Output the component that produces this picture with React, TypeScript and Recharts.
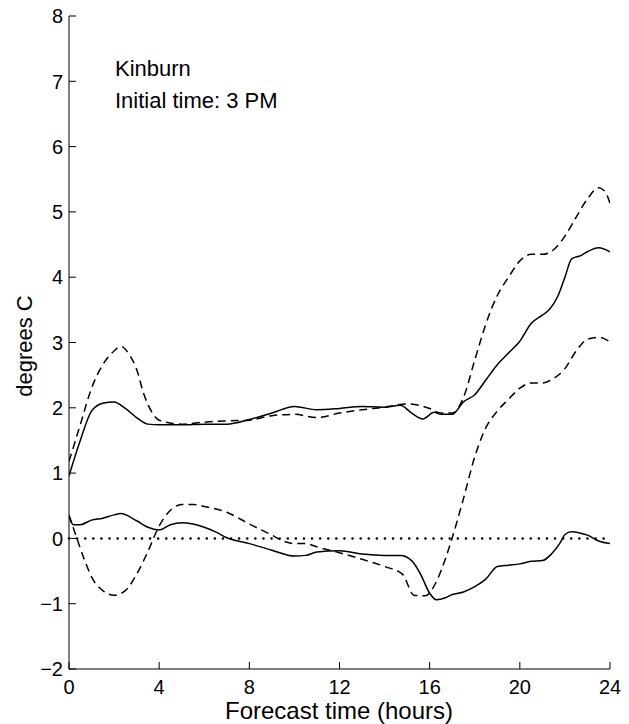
import { LineChart, Line, XAxis, YAxis, ReferenceLine } from "recharts";

// forecast hours and error values (degrees C)
const upperSolidX = [0, 0.5, 1, 1.5, 2, 2.5, 3, 3.5, 4, 5, 6, 7, 8, 9, 10, 11, 12, 13, 14, 14.7, 15.2, 15.7, 16.2, 16.5, 17, 17.5, 18, 18.5, 19, 19.5, 20, 20.5, 21, 21.3, 21.7, 22, 22.3, 22.7, 23, 23.5, 24];
const upperSolidY = [0.96, 1.5, 1.95, 2.07, 2.09, 1.99, 1.85, 1.75, 1.74, 1.74, 1.75, 1.75, 1.82, 1.92, 2.02, 1.97, 1.99, 2.02, 2.01, 2.04, 1.92, 1.83, 1.93, 1.9, 1.9, 2.09, 2.2, 2.43, 2.66, 2.84, 3.02, 3.29, 3.42, 3.5, 3.72, 4.0, 4.28, 4.33, 4.39, 4.45, 4.39];

const upperDashX = [0, 0.5, 1, 1.5, 2, 2.3, 2.7, 3, 3.3, 3.7, 4, 5, 6, 7, 8, 9, 10, 11, 12, 13, 14, 15, 16, 16.5, 17, 17.5, 18, 18.5, 19, 19.5, 20, 20.5, 21, 21.5, 22, 22.5, 23, 23.5, 23.8, 24];
const upperDashY = [1.18, 1.74, 2.3, 2.66, 2.87, 2.94, 2.8, 2.59, 2.23, 1.92, 1.81, 1.75, 1.78, 1.8, 1.81, 1.88, 1.9, 1.85, 1.92, 1.97, 2.01, 2.06, 1.99, 1.92, 1.92, 2.16, 2.73, 3.29, 3.72, 4.0, 4.25, 4.35, 4.35, 4.42, 4.63, 4.92, 5.2, 5.37, 5.3, 5.13];

const lowerSolidX = [0, 0.2, 0.5, 1, 1.5, 2, 2.3, 3, 3.5, 4, 4.5, 5, 5.5, 6, 6.5, 7, 8, 9, 10, 10.5, 11, 12, 13, 14, 14.7, 15.2, 15.6, 16, 16.3, 16.7, 17, 17.5, 18, 18.5, 19, 19.5, 20, 20.5, 21, 21.4, 21.8, 22, 22.3, 22.7, 23, 23.5, 24];
const lowerSolidY = [0.33, 0.21, 0.21, 0.28, 0.31, 0.36, 0.38, 0.27, 0.17, 0.13, 0.21, 0.24, 0.22, 0.17, 0.1, 0.01, -0.08, -0.18, -0.27, -0.26, -0.21, -0.19, -0.24, -0.26, -0.26, -0.34, -0.55, -0.84, -0.94, -0.91, -0.86, -0.82, -0.74, -0.62, -0.43, -0.41, -0.39, -0.35, -0.34, -0.24, -0.06, 0.06, 0.1, 0.08, 0.05, -0.04, -0.08];

const lowerDashX = [0, 0.3, 0.7, 1, 1.5, 2, 2.5, 3, 3.5, 4, 4.5, 5, 5.5, 6, 7, 8, 9, 9.5, 10, 10.5, 11, 12, 13, 14, 14.8, 15.3, 15.8, 16.3, 16.7, 17, 17.5, 18, 18.5, 19, 19.5, 20, 20.5, 21, 21.5, 22, 22.5, 23, 23.5, 24];
const lowerDashY = [0.36, 0.05, -0.34, -0.59, -0.8, -0.87, -0.8, -0.55, -0.2, 0.19, 0.43, 0.52, 0.52, 0.49, 0.4, 0.22, 0.05, -0.04, -0.08, -0.08, -0.13, -0.22, -0.32, -0.43, -0.55, -0.87, -0.88, -0.66, -0.31, 0.01, 0.61, 1.25, 1.7, 1.95, 2.13, 2.3, 2.38, 2.38, 2.45, 2.6, 2.87, 3.05, 3.08, 3.01];

const xTicks = [0, 4, 8, 12, 16, 20, 24];
const yTicks = [-2, -1, 0, 1, 2, 3, 4, 5, 6, 7, 8];

const toPoints = (xs: number[], ys: number[]) => xs.map((x, i) => ({ x, y: ys[i] }));

const FONT = "'Liberation Sans', Arial, Helvetica, sans-serif";
const TICK = 7;

const fmt = (v: number) => (v < 0 ? "\u2212" + Math.abs(v) : String(v));

const BottomTick = (props: any) => {
  const { x, y, payload } = props;
  return (
    <g>
      <line x1={x} y1={y} x2={x} y2={y - TICK} stroke="#000" />
      <text x={x} y={y + 25} textAnchor="middle" fontSize={20} fontFamily={FONT} fill="#000">
        {fmt(payload.value)}
      </text>
    </g>
  );
};

const TopTick = (props: any) => {
  const { x, y } = props;
  return <line x1={x} y1={y} x2={x} y2={y + TICK} stroke="#000" />;
};

const LeftTick = (props: any) => {
  const { x, y, payload } = props;
  return (
    <g>
      <line x1={x} y1={y} x2={x + TICK} y2={y} stroke="#000" />
      <text x={x - 6} y={y} dy="0.36em" textAnchor="end" fontSize={20} fontFamily={FONT} fill="#000">
        {fmt(payload.value)}
      </text>
    </g>
  );
};

const RightTick = (props: any) => {
  const { x, y } = props;
  return <line x1={x} y1={y} x2={x - TICK} y2={y} stroke="#000" />;
};

export default function App() {
  const line = { type: "monotone" as const, dataKey: "y", stroke: "#000", dot: false, isAnimationActive: false };
  return (
    <div style={{ position: "absolute", left: 0, top: 0, width: 629, height: 724, background: "#fff", fontFamily: FONT }}>
      <LineChart width={629} height={724} margin={{ top: 16, right: 19, left: 0, bottom: 0 }}>
        <XAxis
          xAxisId="b"
          dataKey="x"
          type="number"
          domain={[0, 24]}
          ticks={xTicks}
          height={55}
          tickSize={0}
          tickMargin={0}
          tickLine={false}
          axisLine={{ stroke: "#000" }}
          tick={<BottomTick />}
          allowDataOverflow
        />
        <XAxis
          xAxisId="t"
          orientation="top"
          dataKey="x"
          type="number"
          domain={[0, 24]}
          ticks={xTicks}
          height={0}
          tickSize={0}
          tickMargin={0}
          tickLine={false}
          axisLine={{ stroke: "#000" }}
          tick={<TopTick />}
        />
        <YAxis
          yAxisId="l"
          type="number"
          domain={[-2, 8]}
          ticks={yTicks}
          width={69}
          tickSize={0}
          tickMargin={0}
          tickLine={false}
          axisLine={{ stroke: "#000" }}
          tick={<LeftTick />}
          allowDataOverflow
        />
        <YAxis
          yAxisId="r"
          orientation="right"
          type="number"
          domain={[-2, 8]}
          ticks={yTicks}
          width={0}
          tickSize={0}
          tickMargin={0}
          tickLine={false}
          axisLine={{ stroke: "#000" }}
          tick={<RightTick />}
        />
        <ReferenceLine
          xAxisId="b"
          yAxisId="l"
          y={0}
          stroke="#000"
          strokeWidth={2.5}
          strokeDasharray="0.1 8"
          strokeLinecap="round"
        />
        <Line {...line} xAxisId="b" yAxisId="l" data={toPoints(upperSolidX, upperSolidY)} strokeWidth={1.5} />
        <Line {...line} xAxisId="b" yAxisId="l" data={toPoints(upperDashX, upperDashY)} strokeWidth={1.5} strokeDasharray="8 5" />
        <Line {...line} xAxisId="b" yAxisId="l" data={toPoints(lowerSolidX, lowerSolidY)} strokeWidth={1.5} />
        <Line {...line} xAxisId="b" yAxisId="l" data={toPoints(lowerDashX, lowerDashY)} strokeWidth={1.5} strokeDasharray="8 5" />
      </LineChart>
      <div style={{ position: "absolute", left: 115, top: 53, fontSize: 22, lineHeight: "32px", color: "#000" }}>
        <div>Kinburn</div>
        <div>Initial time: 3 PM</div>
      </div>
      <div
        style={{
          position: "absolute",
          left: 25,
          top: 346,
          transform: "translate(-50%, -50%) rotate(-90deg)",
          fontSize: 22,
          whiteSpace: "nowrap",
          color: "#000",
        }}
      >
        degrees C
      </div>
      <div
        style={{
          position: "absolute",
          left: 339,
          top: 699,
          transform: "translateX(-50%)",
          fontSize: 24,
          lineHeight: "24px",
          whiteSpace: "nowrap",
          color: "#000",
        }}
      >
        Forecast time (hours)
      </div>
    </div>
  );
}
